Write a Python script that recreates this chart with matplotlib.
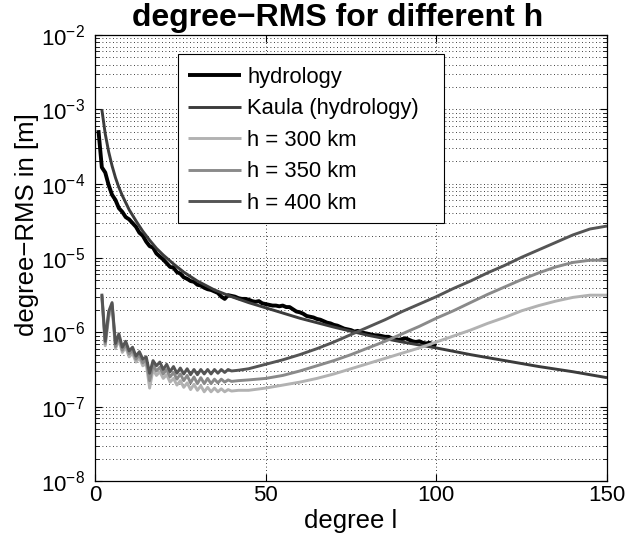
import numpy as np
import matplotlib
matplotlib.use("Agg")
import matplotlib.pyplot as plt
from matplotlib.patches import Rectangle
from matplotlib.ticker import LogLocator, FixedLocator, NullFormatter

plt.rcParams['font.family'] = ['Liberation Sans', 'DejaVu Sans']
plt.rcParams['mathtext.fontset'] = 'custom'
plt.rcParams['mathtext.rm'] = 'Liberation Sans'
plt.rcParams['mathtext.it'] = 'Liberation Sans'

# ---- data: degree-RMS amplitudes, stored as log10 of metres ----
hydrology_deg = list(range(1, 101))
hydrology_log10 = [
    -3.28, -3.78, -3.85, -4.02, -4.15, -4.22, -4.33, -4.38, -4.45, -4.48,
    -4.53, -4.58, -4.66, -4.70, -4.78, -4.84, -4.86, -4.94, -4.98, -5.02,
    -5.07, -5.12, -5.13, -5.19, -5.21, -5.26, -5.28, -5.31, -5.32, -5.36,
    -5.37, -5.40, -5.42, -5.43, -5.45, -5.47, -5.52, -5.55, -5.50, -5.51,
    -5.52, -5.54, -5.55, -5.55, -5.56, -5.58, -5.59, -5.58, -5.61, -5.62,
    -5.63, -5.64, -5.64, -5.65, -5.64, -5.66, -5.66, -5.69, -5.72, -5.73,
    -5.75, -5.78, -5.79, -5.80, -5.82, -5.83, -5.85, -5.87, -5.88, -5.90,
    -5.91, -5.93, -5.95, -5.96, -5.97, -5.99, -5.98, -6.00, -6.01, -6.02,
    -6.03, -6.04, -6.04, -6.05, -6.06, -6.06, -6.08, -6.09, -6.10, -6.09,
    -6.08, -6.10, -6.12, -6.13, -6.12, -6.14, -6.15, -6.14, -6.16, -6.18,
]

kaula_deg = [2, 3, 4, 5, 6, 7, 8, 10, 12, 14, 16, 18, 20, 23, 26, 30, 35, 40,
             45, 50, 60, 70, 80, 90, 100, 110, 120, 130, 140, 150]
kaula_log10 = [-3.00, -3.33, -3.57, -3.76, -3.92, -4.05, -4.16, -4.35, -4.50,
               -4.64, -4.76, -4.87, -4.96, -5.08, -5.19, -5.31, -5.43, -5.52,
               -5.60, -5.67, -5.81, -5.93, -6.04, -6.13, -6.21, -6.30, -6.38,
               -6.46, -6.53, -6.61]

orbit_deg = list(range(2, 41)) + [42, 45, 50, 55, 60, 65, 70, 75, 80, 85, 90,
                                  95, 100, 105, 110, 115, 120, 125, 130, 135,
                                  140, 145, 150]
h300_log10 = [
    -5.52, -6.18, -5.80, -5.65, -6.22, -6.10, -6.27, -6.20, -6.33, -6.28,
    -6.40, -6.34, -6.45, -6.42, -6.75, -6.50, -6.58, -6.53, -6.62, -6.57,
    -6.67, -6.62, -6.71, -6.65, -6.74, -6.68, -6.77, -6.70, -6.78, -6.72,
    -6.80, -6.74, -6.80, -6.75, -6.80, -6.76, -6.80, -6.77, -6.79,
    -6.78, -6.78, -6.75, -6.71, -6.67, -6.62, -6.56, -6.49, -6.42, -6.35,
    -6.28, -6.21, -6.13, -6.05, -5.97, -5.88, -5.80, -5.71, -5.64, -5.58,
    -5.53, -5.50, -5.50,
]
h350_log10 = [
    -5.50, -6.15, -5.76, -5.62, -6.19, -6.06, -6.24, -6.16, -6.29, -6.24,
    -6.36, -6.30, -6.41, -6.37, -6.65, -6.44, -6.52, -6.47, -6.56, -6.50,
    -6.60, -6.54, -6.63, -6.56, -6.65, -6.58, -6.68, -6.60, -6.69, -6.61,
    -6.69, -6.62, -6.69, -6.63, -6.68, -6.63, -6.67, -6.64, -6.66,
    -6.65, -6.64, -6.62, -6.58, -6.52, -6.45, -6.38, -6.30, -6.21, -6.12,
    -6.02, -5.92, -5.81, -5.71, -5.60, -5.49, -5.39, -5.29, -5.20, -5.12,
    -5.06, -5.03, -5.03,
]
h400_log10 = [
    -5.48, -6.12, -5.72, -5.60, -6.15, -6.02, -6.20, -6.12, -6.25, -6.20,
    -6.32, -6.26, -6.36, -6.33, -6.55, -6.38, -6.45, -6.40, -6.50, -6.43,
    -6.53, -6.46, -6.55, -6.48, -6.56, -6.49, -6.57, -6.50, -6.57, -6.50,
    -6.56, -6.50, -6.56, -6.50, -6.55, -6.50, -6.54, -6.50, -6.52,
    -6.51, -6.49, -6.43, -6.37, -6.30, -6.22, -6.13, -6.03, -5.93, -5.83,
    -5.72, -5.62, -5.52, -5.41, -5.31, -5.20, -5.10, -4.99, -4.89, -4.79,
    -4.69, -4.61, -4.57,
]

x_ticks = [0, 50, 100, 150]
y_ticks = [1e-8, 1e-7, 1e-6, 1e-5, 1e-4, 1e-3, 1e-2]

series = [
    ("hydrology", hydrology_deg, hydrology_log10, "#000000", 2.8),
    ("Kaula (hydrology)", kaula_deg, kaula_log10, "#3c3c3c", 2.1),
    ("h = 300 km", orbit_deg, h300_log10, "#b2b2b2", 2.1),
    ("h = 350 km", orbit_deg, h350_log10, "#8a8a8a", 2.1),
    ("h = 400 km", orbit_deg, h400_log10, "#555555", 2.1),
]

W, H = 631, 535
fig = plt.figure(figsize=(W / 100, H / 100), dpi=100)
ax = fig.add_axes([95 / W, 1 - 481 / H, 512 / W, 446 / H])

for label, deg, vals, color, lw in series:
    ax.plot(deg, 10.0 ** np.asarray(vals), color=color, lw=lw, label=label,
            solid_joinstyle='round', solid_capstyle='butt')

ax.set_yscale('log')
ax.set_xlim(0, 150)
ax.set_ylim(1e-8, 1e-2)
ax.xaxis.set_major_locator(FixedLocator(x_ticks))
ax.yaxis.set_major_locator(FixedLocator(y_ticks))
ax.yaxis.set_minor_locator(LogLocator(base=10, subs=np.arange(2, 10), numticks=10))
ax.yaxis.set_minor_formatter(NullFormatter())

grid_style = dict(color='black', linestyle=(0, (1, 3.2)), linewidth=0.6)
ax.grid(True, which='major', axis='both', **grid_style)
ax.grid(True, which='minor', axis='y', **grid_style)

ax.tick_params(which='both', direction='in', top=True, right=True,
               labelsize=16)
ax.tick_params(axis='x', pad=3)
ax.tick_params(axis='y', pad=7)
ax.tick_params(which='major', length=5, width=0.8)
ax.tick_params(which='minor', length=3, width=0.6)
for sp in ax.spines.values():
    sp.set_linewidth(0.9)

ax.set_xlabel('degree l', fontsize=18.5, labelpad=2)
ax.set_ylabel('degree\u2212RMS in [m]', fontsize=18.5)
ax.yaxis.set_label_coords(-0.11, 1 - (225 - 35) / 446)
fig.text(338 / W, 1 - 18 / H, 'degree\u2212RMS for different h',
         fontsize=23, fontweight='bold', ha='center', va='center')

# legend box (drawn separately so it can carry the wide right margin)
def ax_frac(px, py):
    return (px - 95) / 512, 1 - (py - 35) / 446

x0, y1 = ax_frac(178, 54)
x1, y0 = ax_frac(444, 223)
ax.add_patch(Rectangle((x0, y0), x1 - x0, y1 - y0, transform=ax.transAxes,
                       facecolor='white', edgecolor='black', lw=0.8,
                       zorder=4.5))

lx, ly = ax_frac(178, 57)
leg = ax.legend(loc='upper left', bbox_to_anchor=(lx, ly),
                borderaxespad=0, fontsize=15.8, frameon=False,
                handlelength=2.4, handletextpad=0.3, labelspacing=0.48,
                borderpad=0.45)
leg.set_zorder(5)

fig.savefig('out.png', dpi=100)
